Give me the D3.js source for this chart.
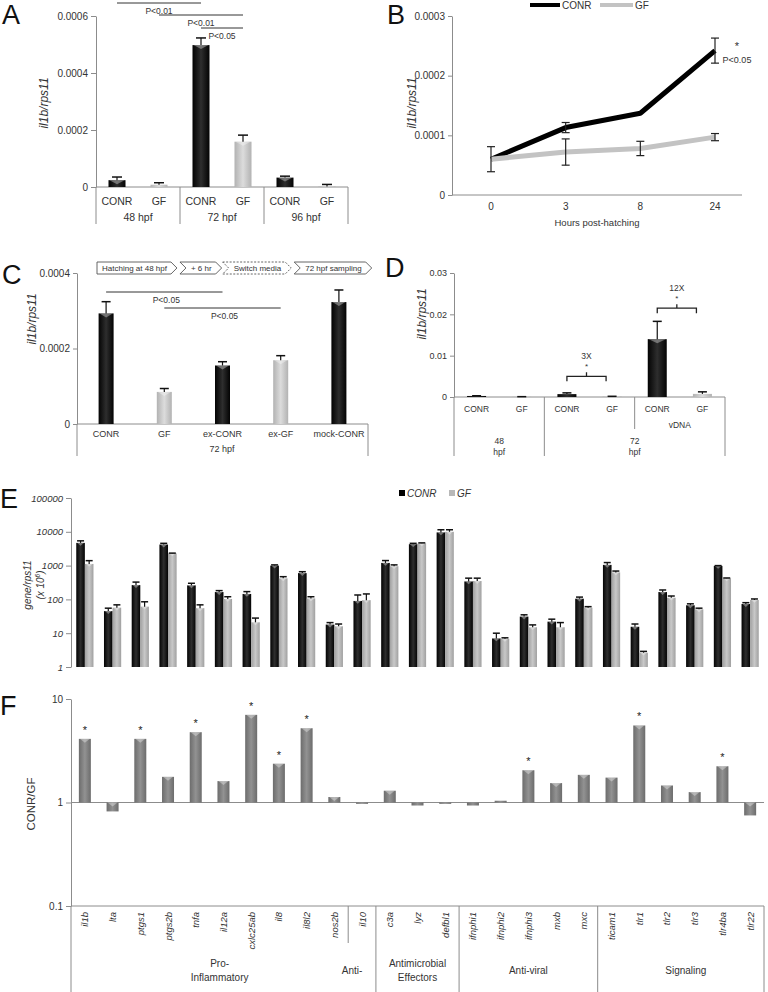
<!DOCTYPE html>
<html><head><meta charset="utf-8">
<script src="https://cdn.jsdelivr.net/npm/d3@7/dist/d3.min.js"></script>
<style>
html,body{margin:0;padding:0;background:#fff;}
svg{display:block;}
</style></head>
<body>
<svg id="fig" width="768" height="992" xmlns="http://www.w3.org/2000/svg"></svg>
<script>
// ================= DATA =================
// Panel A
const aTreatments = ["CONR","GF","CONR","GF","CONR","GF"];
const aStages = ["48 hpf","72 hpf","96 hpf"];
const aMeans = [0.000024, 0.000008, 0.000498, 0.000159, 0.000033, 0.000002];
const aErr   = [0.000011, 0.000007, 0.000025, 0.000023, 0.000005, 0.000007];
const aTicks = [0, 0.0002, 0.0004, 0.0006];
const aPairs = [[0,2],[1,3],[2,3]];
const aPLabels = ["P<0.01","P<0.01","P<0.05"];

// Panel B
const bHours = ["0","3","8","24"];
const bConr    = [0.000060, 0.000113, 0.000137, 0.000242];
const bConrErr = [0,        0.0000085, 0,       0.000021];
const bGf      = [0.000060, 0.000072, 0.000078, 0.000097];
const bGfErr   = [0.000021, 0.000022, 0.000012, 0.000006];
const bTicks = [0, 0.0001, 0.0002, 0.0003];

// Panel C
const cGroups = ["CONR","GF","ex-CONR","ex-GF","mock-CONR"];
const cTreat  = ["CONR","GF","CONR","GF","CONR"];
const cMeans  = [0.000293, 0.000085, 0.000155, 0.000169, 0.000323];
const cErr    = [0.000031, 0.000009, 0.000010, 0.000012, 0.000032];
const cTicks  = [0, 0.0002, 0.0004];
const cStage  = "72 hpf";
const cSteps  = ["Hatching at 48 hpf","+ 6 hr","Switch media","72 hpf sampling"];
const cPairs  = [[0,2],[1,3]];
const cPLabels = ["P<0.05","P<0.05"];

// Panel D
const dTreat  = ["CONR","GF","CONR","GF","CONR","GF"];
const dMeans  = [0.00025, 0.00006, 0.0007, 0.00012, 0.0140, 0.00075];
const dErr    = [0.00006, 0.00002, 0.0003, 0.00005, 0.0043, 0.0005];
const dTicks  = [0, 0.01, 0.02, 0.03];
const dStages = [["48","hpf"],["72","hpf"]];
const dStageStart = [0, 2];
const dSubLabel = "vDNA";
const dFold = ["3X","12X"];
const dFoldPairs = [[2,3],[4,5]];
const dFoldY = [0.0050, 0.0215];

// Panels E & F
const genes = ["il1b","lta","ptgs1","ptgs2b","tnfa","il12a","cxlc25ab","il8","il8l2","nos2b",
  "il10","c3a","lyz","defbl1","ifnphi1","ifnphi2","ifnphi3","mxb","mxc",
  "ticam1","tlr1","tlr2","tlr3","tlr4ba","tlr22"];
const eConr    = [4700, 45, 265, 4200, 260, 165, 145, 1000, 600, 18, 90, 1200, 4300, 9600, 340, 7, 31, 22, 105, 1050, 15.5, 165, 67, 980, 73];
const eConrErr = [700, 10, 60, 360, 40, 17, 25, 50, 60, 2.6, 45, 210, 260, 1900, 85, 3, 4, 4, 12, 180, 3.2, 25, 7, 20, 7];
const eGf      = [1120, 57, 61, 2300, 55, 103, 21, 420, 107, 16, 95, 960, 4550, 10000, 350, 6.8, 15, 15, 57, 630, 2.65, 112, 51, 420, 96];
const eGfErr   = [280, 12, 24, 40, 14, 17, 7, 50, 13, 2.7, 50, 90, 150, 1500, 75, 0.5, 2.6, 5.6, 4, 60, 0.25, 14, 4, 10, 7];
const eTicks   = [1, 10, 100, 1000, 10000, 100000];

const fRatio = [4.12, 0.82, 4.12, 1.77, 4.78, 1.61, 7.03, 2.37, 5.22, 1.13, 0.97, 1.30, 0.935, 0.97, 0.935, 1.04, 2.05, 1.54, 1.85, 1.74, 5.55, 1.46, 1.26, 2.24, 0.75];
const fSig   = [1,0,1,0,1,0,1,1,1,0,0,0,0,0,0,0,1,0,0,0,1,0,0,1,0];
const fTicks = [0.1, 1, 10];
const fGroupNames = [["Pro-","Inflammatory"],["Anti-"],["Antimicrobial","Effectors"],["Anti-viral"],["Signaling"]];
const fGroupStart = [0, 10, 11, 14, 19];
const fGroupEnd   = [10, 11, 14, 19, 25];

// ================= DRAWING =================
const FONT = "'Liberation Sans', Arial, Helvetica, sans-serif";
const AX = "#8c8c8c";
const TXT = "#333";
const svg = d3.select("#fig");
const defs = svg.append("defs");
function grad(id, stops){
  const g = defs.append("linearGradient").attr("id",id).attr("x1",0).attr("x2",1).attr("y1",0).attr("y2",0);
  stops.forEach(([o,c])=>g.append("stop").attr("offset",o).attr("stop-color",c));
}
grad("gBlack",[[0,"#030303"],[0.5,"#2e2e2e"],[1,"#030303"]]);
grad("gLight",[[0,"#b2b2b2"],[0.5,"#dcdcdc"],[1,"#b2b2b2"]]);
grad("gEGray",[[0,"#a0a0a0"],[0.5,"#c8c8c8"],[1,"#a0a0a0"]]);
grad("gF",[[0,"#6c6c6c"],[0.5,"#929292"],[1,"#6c6c6c"]]);

function txt(g, x, y, s, o={}){
  return g.append("text").attr("x",x).attr("y",y).text(s)
    .attr("font-family",FONT).attr("font-size",o.size||10).attr("fill",o.fill||TXT)
    .attr("text-anchor",o.anchor||"middle").attr("font-style",o.italic?"italic":null);
}
function vtxt(g, x, y, s, o={}){
  return g.append("text").attr("transform",`translate(${x},${y}) rotate(-90)`).text(s)
    .attr("font-family",FONT).attr("font-size",o.size||10).attr("fill",o.fill||TXT)
    .attr("text-anchor",o.anchor||"middle").attr("font-style",o.italic?"italic":null);
}
function line(g,x1,y1,x2,y2,c=AX,w=1,dash=null){
  return g.append("line").attr("x1",x1).attr("y1",y1).attr("x2",x2).attr("y2",y2)
    .attr("stroke",c).attr("stroke-width",w).attr("stroke-dasharray",dash);
}
function styleAxis(sel, size, italic){
  sel.attr("font-family",FONT);
  sel.select(".domain").attr("stroke",AX);
  sel.selectAll(".tick line").attr("stroke",AX);
  sel.selectAll(".tick text").attr("fill",TXT).attr("font-size",size).attr("font-style",italic?"italic":null);
}
const fmtDec = d => d===0 ? "0" : String(d);

// bars: items {cx, v, e, fill, w}
function drawBars(g, items, y, base, capW){
  const b = g.append("g");
  b.selectAll("rect").data(items).join("rect")
    .attr("x", d=>d.cx-d.w/2).attr("width", d=>d.w)
    .attr("y", d=>Math.min(y(d.v), y(base))).attr("height", d=>Math.abs(y(base)-y(d.v)))
    .attr("fill", d=>d.fill);
  b.selectAll("path.bev").data(items.filter(d=>Math.abs(y(base)-y(d.v))>4)).join("path").attr("class","bev")
    .attr("d", d=>{const t=Math.min(y(d.v),y(base)); return `M${d.cx-d.w/2+1},${t}L${d.cx+d.w/2-1},${t}L${d.cx},${t+Math.min(4,d.w/3)}Z`;})
    .attr("fill","#fff").attr("opacity",0.35);
  const eb = items.filter(d=>d.e>0);
  b.selectAll("line.ev").data(eb).join("line").attr("class","ev")
    .attr("x1",d=>d.cx).attr("x2",d=>d.cx).attr("y1",d=>y(d.v)).attr("y2",d=>y(d.v+d.e))
    .attr("stroke","#111").attr("stroke-width",1.2);
  b.selectAll("line.ec").data(eb).join("line").attr("class","ec")
    .attr("x1",d=>d.cx-capW/2).attr("x2",d=>d.cx+capW/2).attr("y1",d=>y(d.v+d.e)).attr("y2",d=>y(d.v+d.e))
    .attr("stroke","#111").attr("stroke-width",1.5);
  return b;
}
function letter(x,y,s){ txt(svg,x,y,s,{size:27,anchor:"start",fill:"#111"}); }

// ---------- Panel A ----------
{
  const g = svg.append("g");
  const x = d3.scaleBand().domain(d3.range(aMeans.length)).range([96,348]);
  const y = d3.scaleLinear().domain([0,0.0006]).range([187,16]);
  const cx = i => x(i)+x.bandwidth()/2;
  g.append("g").attr("transform","translate(96,0)")
    .call(d3.axisLeft(y).tickValues(aTicks).tickFormat(fmtDec).tickSize(5).tickSizeOuter(0))
    .call(styleAxis,10);
  line(g,96,y(0),348,y(0));
  drawBars(g, aMeans.map((v,i)=>({cx:cx(i),v,e:aErr[i],w:17,fill:aTreatments[i]==="CONR"?"url(#gBlack)":"url(#gLight)"})), y, 0, 10);
  aTreatments.forEach((t,i)=>txt(g,cx(i),205,t,{size:10.5}));
  const bounds = aStages.map((s,k)=>x(2*k)).concat([x.range()[1]]);
  bounds.forEach(b=>line(g,b,y(0),b,224));
  aStages.forEach((s,k)=>txt(g,(bounds[k]+bounds[k+1])/2,221,s,{size:10.5}));
  vtxt(g,48,103,"il1b/rps11",{size:12,italic:true});
  const ly = [3,15,28];
  aPairs.forEach(([i,j],k)=>{
    line(g,cx(i),ly[k],cx(j),ly[k],"#333",1);
    txt(g,(cx(i)+cx(j))/2,ly[k]+11,aPLabels[k],{size:8.5});
  });
  letter(2,24,"A");
}

// ---------- Panel B ----------
{
  const g = svg.append("g");
  const x = d3.scalePoint().domain(bHours).range([491,715]);
  const y = d3.scaleLinear().domain([0,0.0003]).range([195,16]);
  g.append("g").attr("transform","translate(452,0)")
    .call(d3.axisLeft(y).tickValues(bTicks).tickFormat(fmtDec).tickSize(4).tickSizeOuter(0))
    .call(styleAxis,10);
  line(g,452,y(0),742,y(0));
  bHours.forEach(h=>txt(g,x(h),210,h,{size:10}));
  txt(g,597,226,"Hours post-hatching",{size:9.5});
  vtxt(g,416,103,"il1b/rps11",{size:12,italic:true});
  const ln = d3.line().x((d,i)=>x(bHours[i])).y(d=>y(d));
  g.append("path").datum(bConr).attr("d",ln).attr("fill","none").attr("stroke","#000").attr("stroke-width",5).attr("stroke-linejoin","round");
  g.append("path").datum(bGf).attr("d",ln).attr("fill","none").attr("stroke","#c3c3c3").attr("stroke-width",5).attr("stroke-linejoin","round");
  const errs = [];
  bConr.forEach((v,i)=>{ if(bConrErr[i]>0) errs.push({h:bHours[i],v,e:bConrErr[i]}); });
  bGf.forEach((v,i)=>{ if(bGfErr[i]>0) errs.push({h:bHours[i],v,e:bGfErr[i]}); });
  errs.forEach(d=>{
    line(g,x(d.h),y(d.v-d.e),x(d.h),y(d.v+d.e),"#222",1.2);
    line(g,x(d.h)-4,y(d.v-d.e),x(d.h)+4,y(d.v-d.e),"#222",1.2);
    line(g,x(d.h)-4,y(d.v+d.e),x(d.h)+4,y(d.v+d.e),"#222",1.2);
  });
  txt(g,737,50,"*",{size:11});
  txt(g,737,63,"P<0.05",{size:9});
  // legend
  line(g,530,5,560,5,"#000",4);
  txt(g,562,9,"CONR",{size:10,anchor:"start"});
  line(g,600,5,633,5,"#c3c3c3",4);
  txt(g,635,9,"GF",{size:10,anchor:"start"});
  letter(387,24,"B");
}

// ---------- Panel C ----------
{
  const g = svg.append("g");
  const x = d3.scaleBand().domain(cGroups).range([77,368]);
  const y = d3.scaleLinear().domain([0,0.0004]).range([424,273]);
  const cx = k => x(k)+x.bandwidth()/2;
  g.append("g").attr("transform","translate(77,0)")
    .call(d3.axisLeft(y).tickValues(cTicks).tickFormat(fmtDec).tickSize(4).tickSizeOuter(0))
    .call(styleAxis,10);
  line(g,77,y(0),368,y(0));
  line(g,77,y(0),77,456); line(g,368,y(0),368,456);
  drawBars(g, cMeans.map((v,i)=>({cx:cx(cGroups[i]),v,e:cErr[i],w:15,fill:cTreat[i]==="CONR"?"url(#gBlack)":"url(#gLight)"})), y, 0, 9);
  cGroups.forEach(c=>txt(g,cx(c),437,c,{size:9}));
  txt(g,222,452,cStage,{size:9});
  vtxt(g,36,319,"il1b/rps11",{size:12,italic:true});
  const ly = [292,308];
  cPairs.forEach(([i,j],k)=>{
    const x1=cx(cGroups[i]), x2=cx(cGroups[j]);
    line(g,x1,ly[k],x2,ly[k],"#333",1);
    txt(g,(x1+x2)/2+2,ly[k]+11,cPLabels[k],{size:8.5});
  });
  // flow chevrons
  const gp = g.append("g"), gt = g.append("g");
  let x0 = 97; const top=262, bot=274, mid=268, tip=6;
  cSteps.forEach((s,k)=>{
    const notch = k>0 ? 6 : 0;
    const t = txt(gt,0,271,s,{size:8,anchor:"start"});
    const tw = t.node().getComputedTextLength();
    t.attr("x", x0 + notch + 5);
    const xr = x0 + notch + 5 + tw + 4;
    const pts = [[x0,top],[xr,top],[xr+tip,mid],[xr,bot],[x0,bot]];
    if(notch) pts.push([x0+notch,mid]);
    gp.append("polygon").attr("points",pts.map(p=>p.join(",")).join(" "))
      .attr("fill","#fff").attr("stroke","#555").attr("stroke-width",0.9)
      .attr("stroke-dasharray", s==="Switch media" ? "2,1.5" : null);
    x0 = xr + tip + (k===1 ? 1 : 3);
  });
  letter(2,284,"C");
}

// ---------- Panel D ----------
{
  const g = svg.append("g");
  const x = d3.scaleBand().domain(d3.range(dMeans.length)).range([454,725]);
  const y = d3.scaleLinear().domain([0,0.03]).range([397,273]);
  const cx = i => x(i)+x.bandwidth()/2;
  g.append("g").attr("transform","translate(454,0)")
    .call(d3.axisLeft(y).tickValues(dTicks).tickFormat(fmtDec).tickSize(4).tickSizeOuter(0))
    .call(styleAxis,9);
  line(g,454,y(0),725,y(0));
  drawBars(g, dMeans.map((v,i)=>({cx:cx(i),v,e:dErr[i],w:19,fill:dTreat[i]==="CONR"?"url(#gBlack)":"url(#gLight)"})), y, 0, 9);
  dTreat.forEach((t,i)=>txt(g,cx(i),412,t,{size:8.5}));
  const bnd = dStageStart.map(i=>x(i)).concat([x.range()[1]]);
  bnd.forEach(b=>line(g,b,y(0),b,456));
  line(g,x(4),y(0),x(4),429);
  txt(g,x(4)+x.bandwidth(),428,dSubLabel,{size:8.5});
  dStages.forEach((s,k)=>{
    const m=(bnd[k]+bnd[k+1])/2;
    txt(g,m,444,s[0],{size:8.5}); txt(g,m,455,s[1],{size:8.5});
  });
  vtxt(g,426,314,"il1b/rps11",{size:12,italic:true});
  dFoldPairs.forEach(([i,j],k)=>{
    const x1=cx(i), x2=cx(j)-6, yy=y(dFoldY[k]), xm=(x1+x2)/2;
    g.append("path").attr("d",`M${x1},${yy+5}L${x1},${yy}L${x2},${yy}L${x2},${yy+5}M${xm},${yy}L${xm},${yy-4}`)
      .attr("fill","none").attr("stroke","#222").attr("stroke-width",1.3);
    txt(g,xm,yy-7,"*",{size:8});
    txt(g,xm,yy-17,dFold[k],{size:8.5});
  });
  letter(385,277,"D");
}

// ---------- Panel E ----------
const xg = d3.scaleBand().domain(genes).range([71,764]);
{
  const g = svg.append("g");
  const y = d3.scaleLog().domain([1,100000]).range([667,498]);
  g.append("g").attr("transform","translate(71,0)")
    .call(d3.axisLeft(y).tickValues(eTicks).tickFormat(d3.format("d")).tickSize(5).tickSizeOuter(0))
    .call(styleAxis,9.5,true);
  const c = gname => xg(gname)+xg.bandwidth()/2;
  const items = [];
  genes.forEach((gn,i)=>{
    items.push({cx:c(gn)-4.3,v:eConr[i],e:eConrErr[i],w:8.6,fill:"url(#gBlack)"});
    items.push({cx:c(gn)+4.3,v:eGf[i],e:eGfErr[i],w:8.6,fill:"url(#gEGray)"});
  });
  drawBars(g, items, y, 1, 7);
  vtxt(g,31,585,"gene/rps11",{size:10,italic:true});
  const t2 = g.append("text").attr("transform","translate(44,585) rotate(-90)")
    .attr("font-family",FONT).attr("font-size",10).attr("fill",TXT).attr("font-style","italic").attr("text-anchor","middle");
  t2.append("tspan").text("(x 10");
  t2.append("tspan").text("6").attr("font-size",6.5).attr("dy",-4);
  t2.append("tspan").text(")").attr("dy",4);
  // legend
  g.append("rect").attr("x",399).attr("y",490).attr("width",6).attr("height",6).attr("fill","#000");
  txt(g,407,497,"CONR",{size:10,italic:true,anchor:"start"});
  g.append("rect").attr("x",449).attr("y",490).attr("width",6).attr("height",6).attr("fill","#b8b8b8");
  txt(g,457,497,"GF",{size:10,italic:true,anchor:"start"});
  letter(0,508,"E");
}

// ---------- Panel F ----------
{
  const g = svg.append("g");
  const y = d3.scaleLog().domain([0.1,10]).range([906,699]);
  g.append("g").attr("transform","translate(71,0)")
    .call(d3.axisLeft(y).tickValues(fTicks).tickFormat(d=>String(d)).tickSize(5).tickSizeOuter(0))
    .call(styleAxis,10);
  line(g,71,906,71,992);
  line(g,71,y(1),764,y(1));
  line(g,71,y(0.1),764,y(0.1));
  const c = gname => xg(gname)+xg.bandwidth()/2;
  drawBars(g, genes.map((gn,i)=>({cx:c(gn),v:fRatio[i],e:0,w:12,fill:"url(#gF)"})), y, 1, 0);
  genes.forEach((gn,i)=>{ if(fSig[i]) txt(g,c(gn),y(fRatio[i])-5,"*",{size:11,fill:"#222"}); });
  genes.forEach(gn=>vtxt(g,c(gn)+3.5,912,gn,{size:9.5,italic:true,anchor:"end"}));
  const xs = xg.step();
  fGroupStart.forEach((s,k)=>{
    const xb = 71 + s*xs;
    if(k>0) line(g,xb,906, xb, k===1 ? 943 : 992);
  });
  line(g,764,906,764,992);
  const labelDx = [10,-10,0,0,5];
  fGroupNames.forEach((nm,k)=>{
    const m = 71 + (fGroupStart[k]+fGroupEnd[k])/2*xs + labelDx[k];
    if(nm.length===2){ txt(g,m,967,nm[0],{size:10}); txt(g,m,981,nm[1],{size:10}); }
    else txt(g,m,974,nm[0],{size:10});
  });
  vtxt(g,35,804,"CONR/GF",{size:11.5});
  letter(0,715,"F");
}
</script>
</body></html>
